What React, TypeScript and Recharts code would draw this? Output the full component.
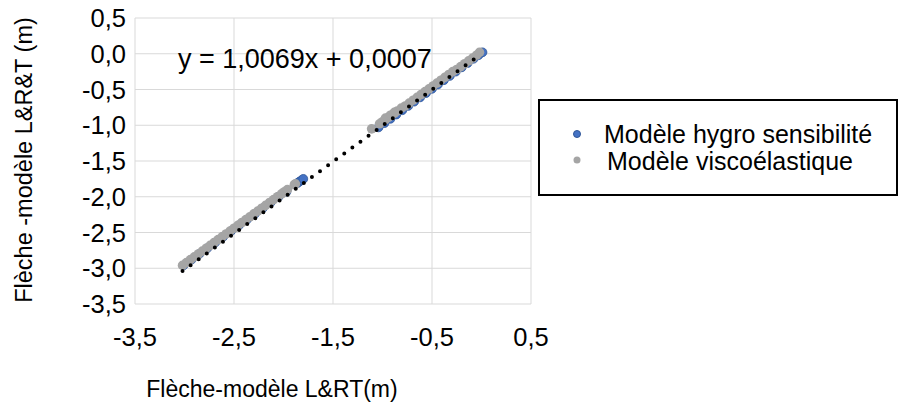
import { ScatterChart, Scatter, XAxis, YAxis, CartesianGrid, Legend } from "recharts";

type Pt = [number, number];

const xTicks = [-3.5, -2.5, -1.5, -0.5, 0.5];
const yTicks = [0.5, 0, -0.5, -1, -1.5, -2, -2.5, -3, -3.5];

const hygroName = "Modèle hygro sensibilité";
const viscoName = "Modèle viscoélastique";
const trendLabel = "y = 1,0069x + 0,0007";

// Modèle hygro sensibilité (x = L&RT, y = L&R&T)
const hygroPoints: Pt[] = [
  [-3.01, -2.96], [-2.93, -2.88], [-2.85, -2.8], [-2.77, -2.72], [-2.69, -2.64],
  [-2.61, -2.56], [-2.53, -2.48], [-2.45, -2.4], [-2.37, -2.32], [-2.29, -2.24],
  [-2.21, -2.16], [-2.13, -2.08], [-2.05, -2.0], [-1.97, -1.93],
  [-1.86, -1.81], [-1.84, -1.79], [-1.82, -1.77], [-1.8, -1.75],
  [-1.04, -1.03], [-0.98, -0.97], [-0.92, -0.91], [-0.86, -0.85], [-0.8, -0.79],
  [-0.74, -0.73], [-0.68, -0.67], [-0.62, -0.61], [-0.56, -0.55], [-0.5, -0.49],
  [-0.44, -0.43], [-0.38, -0.37], [-0.32, -0.31], [-0.26, -0.25], [-0.2, -0.19],
  [-0.14, -0.13], [-0.08, -0.07], [-0.03, -0.02], [0.01, 0.02],
];

// Modèle viscoélastique
const viscoPoints: Pt[] = [
  [-3.02, -2.96], [-2.98, -2.92], [-2.94, -2.88], [-2.9, -2.84], [-2.86, -2.8],
  [-2.82, -2.76], [-2.78, -2.72], [-2.74, -2.68], [-2.7, -2.64], [-2.66, -2.6],
  [-2.62, -2.56], [-2.58, -2.52], [-2.54, -2.48], [-2.5, -2.44], [-2.46, -2.4],
  [-2.42, -2.36], [-2.38, -2.32], [-2.34, -2.28], [-2.3, -2.24], [-2.26, -2.2],
  [-2.22, -2.16], [-2.18, -2.12], [-2.14, -2.08], [-2.1, -2.04], [-2.06, -2.0],
  [-2.02, -1.96], [-1.99, -1.93], [-1.96, -1.9],
  [-1.89, -1.83], [-1.88, -1.82],
  [-1.11, -1.05],
  [-1.03, -0.98], [-1.0, -0.95], [-0.97, -0.92], [-0.97, -0.9], [-0.94, -0.89],
  [-0.92, -0.86], [-0.91, -0.86], [-0.88, -0.83], [-0.88, -0.82], [-0.85, -0.8],
  [-0.81, -0.76], [-0.77, -0.73], [-0.73, -0.69], [-0.69, -0.65], [-0.65, -0.61],
  [-0.61, -0.57], [-0.57, -0.53], [-0.53, -0.49], [-0.49, -0.45], [-0.45, -0.41],
  [-0.41, -0.37], [-0.37, -0.33], [-0.33, -0.29], [-0.29, -0.25], [-0.25, -0.22],
  [-0.21, -0.18], [-0.17, -0.14], [-0.13, -0.1], [-0.09, -0.06], [-0.05, -0.02],
  [-0.02, 0.02],
];

// linear trendline end points (y = 1,0069x + 0,0007)
const trendPoints: Pt[] = [[-3.02, -3.0401], [0, 0.0007]];

const toRows = (pts: Pt[]) => pts.map(([x, y]) => ({ x, y }));

const FONT = "'Liberation Sans', Arial, sans-serif";
const fmt = (v: number) => v.toFixed(1).replace(".", ",");

const BLUE = "#4472C4";
const BLUE_EDGE = "#2F5597";
const GRAY = "#A5A5A5";

function LegendBox() {
  return (
    <svg width={356} height={93} style={{ display: "block" }}>
      <circle cx={37} cy={33} r={3.5} fill={BLUE} stroke={BLUE_EDGE} strokeWidth={1} />
      <text x={64} y={42} fontSize={25} fontFamily={FONT} fill="#000">{hygroName}</text>
      <circle cx={37} cy={59} r={3.5} fill={GRAY} />
      <text x={67} y={69} fontSize={25} fontFamily={FONT} fill="#000">{viscoName}</text>
    </svg>
  );
}

export default function App() {
  return (
    <div style={{ position: "absolute", left: 0, top: 0, width: 904, height: 408, background: "#fff" }}>
      <ScatterChart width={904} height={408} margin={{ top: 18, right: 373, bottom: 0, left: 0 }}>
        <CartesianGrid stroke="#D9D9D9" strokeWidth={1} />
        <XAxis
          type="number"
          dataKey="x"
          domain={[-3.5, 0.5]}
          ticks={xTicks}
          tickFormatter={fmt}
          height={104}
          axisLine={false}
          tickLine={false}
          tickSize={0}
          tickMargin={24}
          tick={{ fontSize: 25.5, fill: "#000", fontFamily: FONT }}
        />
        <YAxis
          type="number"
          dataKey="y"
          domain={[-3.5, 0.5]}
          ticks={yTicks}
          tickFormatter={fmt}
          width={135}
          axisLine={false}
          tickLine={false}
          tickSize={0}
          tickMargin={9}
          tick={{ fontSize: 25.5, fill: "#000", fontFamily: FONT }}
        />
        <Scatter
          name={hygroName}
          data={toRows(hygroPoints)}
          isAnimationActive={false}
          shape={(p: any) => <circle cx={p.cx} cy={p.cy} r={4.4} fill={BLUE} stroke={BLUE_EDGE} strokeWidth={0.8} />}
        />
        <Scatter
          name={viscoName}
          data={toRows(viscoPoints)}
          isAnimationActive={false}
          shape={(p: any) => <circle cx={p.cx} cy={p.cy} r={4.8} fill={GRAY} />}
        />
        <Scatter
          name="trend"
          data={toRows(trendPoints)}
          isAnimationActive={false}
          legendType="none"
          line={{ stroke: "#000", strokeWidth: 4, strokeDasharray: "0 10", strokeLinecap: "round" }}
          shape={() => <g />}
        />
        <Legend
          layout="horizontal"
          verticalAlign="middle"
          align="center"
          wrapperStyle={{
            left: 538, top: 99, width: 360, height: 97,
            border: "2px solid #000", boxSizing: "border-box", background: "#fff",
          }}
          content={() => <LegendBox />}
        />
        <text x={178} y={68} fontSize={27} fontFamily={FONT} fill="#000">{trendLabel}</text>
        <text x={272} y={397} fontSize={23} fontFamily={FONT} fill="#000" textAnchor="middle">
          Flèche-modèle L&amp;RT(m)
        </text>
        <text
          transform="translate(32,160) rotate(-90)"
          fontSize={23.5}
          fontFamily={FONT}
          fill="#000"
          textAnchor="middle"
        >
          Flèche -modèle L&amp;R&amp;T (m)
        </text>
      </ScatterChart>
    </div>
  );
}
